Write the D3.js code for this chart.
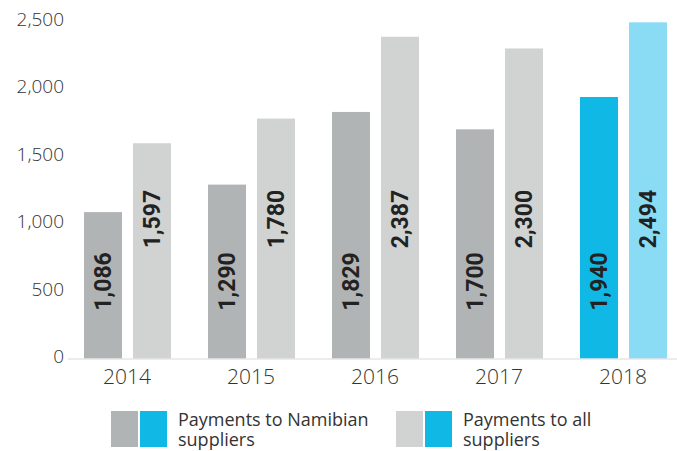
<!DOCTYPE html>
<html>
<head>
<meta charset="utf-8">
<script src="https://cdn.jsdelivr.net/npm/d3@7"></script>
<style>
  body { margin: 0; background: #fff; }
</style>
</head>
<body>
<div id="chart"></div>
<script>
// Chart data
var years = ["2014", "2015", "2016", "2017", "2018"];
var namibian = [1086, 1290, 1829, 1700, 1940];
var allSuppliers = [1597, 1780, 2387, 2300, 2494];
var yTicks = [0, 500, 1000, 1500, 2000, 2500];
var seriesKeys = ["namibian", "all"];
var legendLabels = [["Payments to Namibian", "suppliers"], ["Payments to all", "suppliers"]];

// Colours: grey for past years, blue for the highlighted year
var greyColors = { namibian: "#b1b4b4", all: "#d1d3d3" };
var blueColors = { namibian: "#10b8e5", all: "#89dcf3" };
var legendBlue = "#10b8e5";

var svgWidth = 677;
var svgHeight = 451;

var svg = d3.select("#chart")
  .append("svg")
  .attr("width", svgWidth)
  .attr("height", svgHeight);

// Scales
var x0 = d3.scaleBand()
  .domain(years)
  .range([65, 685])
  .padding(0);

var x1 = d3.scaleBand()
  .domain(seriesKeys)
  .range([19, 106])
  .paddingInner(11 / 49)
  .paddingOuter(0);

var yScale = d3.scaleLinear()
  .domain([0, 2500])
  .range([358.5, 21.5]);

// Build rows
var rows = years.map(function(y, i) {
  return { year: y, namibian: namibian[i], all: allSuppliers[i], last: i === years.length - 1 };
});

// Y axis labels (no line, no ticks)
var leftAxis = d3.axisLeft(yScale)
  .tickValues(yTicks)
  .tickFormat(d3.format(","))
  .tickSize(0)
  .tickPadding(0);

var yAxisG = svg.append("g")
  .attr("transform", "translate(64,-2)")
  .call(leftAxis);
yAxisG.select(".domain").remove();
yAxisG.selectAll("text")
  .attr("font-family", "'Open Sans', sans-serif")
  .attr("font-weight", 300)
  .attr("font-size", 19)
  .attr("fill", "#333");

// Bars
var groups = svg.selectAll(".year")
  .data(rows)
  .enter()
  .append("g")
  .attr("class", "year")
  .attr("transform", d => `translate(${x0(d.year)},0)`);

groups.selectAll("rect")
  .data(d => seriesKeys.map(k => ({ key: k, value: d[k], last: d.last })))
  .enter()
  .append("rect")
  .attr("x", d => x1(d.key))
  .attr("width", x1.bandwidth())
  .attr("y", d => yScale(d.value))
  .attr("height", d => yScale(0) - yScale(d.value))
  .attr("fill", d => d.last ? blueColors[d.key] : greyColors[d.key]);

// Value labels, rotated, placed at a fixed height per series
var labelBase = { namibian: 355, all: 818 };
groups.selectAll(".val")
  .data(d => seriesKeys.map(k => ({ key: k, value: d[k] })))
  .enter()
  .append("text")
  .attr("class", "val")
  .attr("transform", d => `translate(${x1(d.key) + x1.bandwidth() / 2 + 8},${yScale(labelBase[d.key])}) rotate(-90)`)
  .attr("text-anchor", "start")
  .attr("font-family", "Roboto, sans-serif")
  .attr("font-weight", 700)
  .attr("font-size", 23)
  .attr("fill", "#222")
  .text(d => d3.format(",")(d.value));

// Bottom axis line and year labels
svg.append("line")
  .attr("x1", 68)
  .attr("x2", 677)
  .attr("y1", yScale(0) + 0.5)
  .attr("y2", yScale(0) + 0.5)
  .attr("stroke", "#d9d9d9")
  .attr("stroke-width", 1.2);

svg.selectAll(".yearLabel")
  .data(years)
  .enter()
  .append("text")
  .attr("class", "yearLabel")
  .attr("x", d => x0(d) + x0.bandwidth() / 2)
  .attr("y", 384)
  .attr("text-anchor", "middle")
  .attr("font-family", "'Open Sans', sans-serif")
  .attr("font-weight", 300)
  .attr("font-size", 21)
  .attr("fill", "#333")
  .text(d => d);

// Legend
var legendX = [111, 396];
var legend = svg.selectAll(".legend")
  .data(seriesKeys)
  .enter()
  .append("g")
  .attr("class", "legend")
  .attr("transform", (d, i) => `translate(${legendX[i]},411)`);

legend.append("rect")
  .attr("x", 0)
  .attr("y", 0)
  .attr("width", 27)
  .attr("height", 36)
  .attr("fill", d => greyColors[d]);

legend.append("rect")
  .attr("x", 29)
  .attr("y", 0)
  .attr("width", 27)
  .attr("height", 36)
  .attr("fill", legendBlue);

legend.each(function(d, i) {
  var t = d3.select(this).append("text")
    .attr("font-family", "'Open Sans', sans-serif")
    .attr("font-size", 18)
    .attr("fill", "#333");
  t.selectAll("tspan")
    .data(legendLabels[i])
    .enter()
    .append("tspan")
    .attr("x", 67)
    .attr("y", (s, j) => 15 + j * 20)
    .text(s => s);
});
</script>
</body>
</html>
